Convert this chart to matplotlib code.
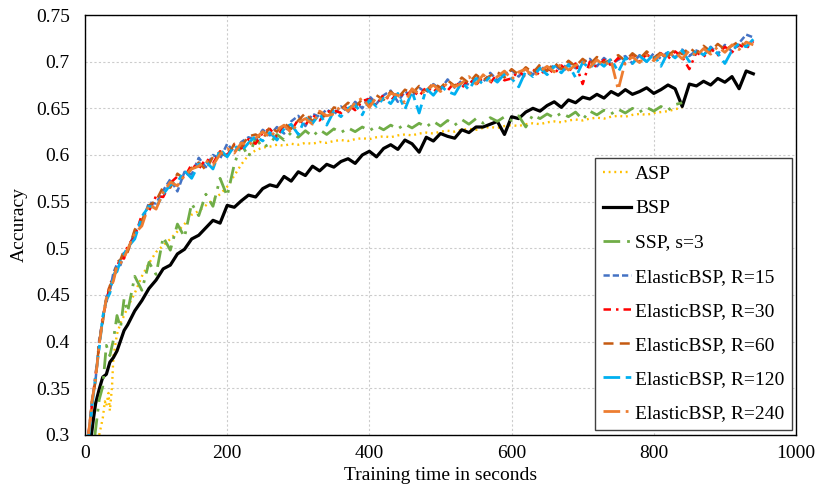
import numpy as np
import matplotlib
matplotlib.use("Agg")
import matplotlib.pyplot as plt

plt.rcParams.update({
    "font.family": ["Liberation Serif", "DejaVu Serif"],
    "font.size": 14,
})

# time axis (seconds)
t_el = np.concatenate([[5, 10, 15, 20, 25, 30, 35, 40, 45, 50, 55, 60], np.arange(70, 950, 10)])
t_bsp = np.concatenate([[9, 12, 15, 20, 25, 30, 35, 40, 45, 50, 55, 60], np.arange(70, 950, 10)])
t_asp = np.concatenate([[20, 25, 28, 30, 33, 35, 38, 40, 45, 50, 55, 60], np.arange(70, 850, 10)])
t_ssp = np.concatenate([[14, 20, 25, 30, 35, 40, 45, 50, 55, 60], np.arange(70, 850, 10)])

# accuracy in thousandths
asp = [300, 318, 336, 331, 345, 326, 352, 384, 408, 420, 428, 437,
       452, 470, 484, 496, 503, 510, 518, 526, 536,
       540, 546, 552, 558, 566, 578, 590, 600, 605, 608,
       609, 611, 610, 612, 611, 613, 612, 614, 613, 615,
       616, 615, 617, 618, 617, 619, 620, 619, 621, 622,
       621, 623, 624, 623, 625, 626, 625, 627, 628, 627,
       629, 630, 629, 631, 632, 631, 633, 634, 633, 635,
       636, 635, 637, 638, 637, 639, 640, 639, 641, 642,
       641, 643, 644, 643, 645, 646, 647, 649, 651]

bsp = [300, 318, 334, 349, 362, 365, 378, 383, 390, 401, 412, 418,
       433, 444, 457, 466, 478, 482, 494, 499, 510,
       514, 522, 530, 527, 546, 544, 551, 557, 555, 564,
       568, 566, 577, 572, 582, 578, 588, 583, 590, 587,
       593, 596, 591, 600, 604, 598, 607, 611, 606, 616,
       612, 603, 619, 615, 623, 620, 618, 627, 624, 630,
       630, 633, 636, 622, 641, 639, 646, 650, 647, 653,
       657, 651, 659, 656, 662, 660, 665, 661, 668, 664,
       670, 665, 668, 672, 666, 670, 675, 671, 652, 676,
       674, 679, 675, 682, 678, 684, 671, 690, 687]

ssp = [300, 338, 352, 396, 385, 402, 428, 415, 446, 432,
       470, 455, 485, 472, 512, 498, 526, 512, 548,
       535, 558, 545, 575, 556, 590, 612, 598, 618, 608,
       612, 622, 616, 624, 619, 626, 620, 627, 622, 628,
       624, 629, 625, 630, 626, 631, 627, 632, 628, 633,
       629, 634, 630, 636, 631, 637, 632, 638, 633, 639,
       634, 640, 636, 641, 637, 642, 630, 643, 639, 644,
       640, 645, 641, 646, 638, 647, 643, 648, 644, 649,
       645, 650, 646, 651, 647, 652, 648, 654, 656]

el_15 = [300, 337, 360, 402, 423, 448, 454, 474, 483, 482, 496, 497,
         518, 527, 549, 548, 562, 574, 561, 582, 579,
         597, 587, 600, 596, 612, 603, 614, 619, 616, 627,
         621, 630, 623, 636, 642, 631, 644, 641, 649, 643,
         652, 646, 657, 650, 663, 655, 664, 669, 657, 668,
         663, 672, 667, 676, 670, 681, 672, 680, 675, 684,
         678, 688, 680, 686, 691, 684, 693, 686, 696, 689,
         697, 690, 700, 693, 699, 703, 695, 704, 697, 702,
         706, 698, 707, 700, 709, 703, 711, 704, 713, 706,
         712, 707, 716, 708, 718, 711, 720, 729, 726]

el_30 = [302, 333, 366, 396, 428, 441, 462, 468, 480, 490, 489, 503,
         512, 536, 540, 556, 555, 570, 577, 576, 590,
         585, 596, 591, 604, 600, 611, 607, 617, 612, 624,
         628, 619, 631, 626, 638, 632, 643, 637, 646, 648,
         645, 654, 648, 658, 660, 653, 665, 658, 667, 662,
         670, 663, 673, 667, 676, 669, 678, 672, 681, 675,
         684, 677, 687, 680, 682, 690, 683, 692, 685, 694,
         687, 696, 689, 698, 676, 700, 694, 702, 696, 704,
         698, 706, 700, 708, 702, 709, 703, 711, 705, 692,
         710, 705, 714, 707, 716, 710, 718, 714, 722]

el_60 = [298, 338, 358, 400, 421, 447, 460, 466, 485, 488, 498, 496,
         520, 530, 546, 551, 566, 565, 580, 574, 586,
         592, 584, 598, 603, 598, 612, 609, 620, 622, 617,
         630, 625, 634, 628, 637, 645, 636, 646, 640, 651,
         649, 656, 651, 660, 654, 664, 659, 668, 661, 670,
         666, 674, 669, 677, 672, 680, 674, 683, 677, 686,
         680, 685, 689, 683, 692, 686, 694, 688, 697, 690,
         699, 692, 701, 695, 703, 697, 705, 699, 702, 707,
         701, 709, 703, 711, 704, 710, 706, 713, 708, 715,
         709, 717, 711, 719, 713, 717, 722, 716, 723]

el_120 = [296, 331, 364, 393, 427, 444, 452, 472, 475, 487, 494, 501,
          510, 534, 545, 544, 558, 568, 571, 583, 575,
          590, 593, 585, 606, 598, 610, 604, 613, 620, 615,
          624, 616, 628, 633, 622, 640, 634, 644, 632, 647,
          641, 650, 654, 643, 659, 652, 661, 655, 666, 649,
          668, 645, 671, 664, 674, 668, 665, 678, 670, 682,
          676, 684, 678, 687, 682, 673, 690, 684, 693, 686,
          695, 688, 697, 683, 699, 693, 701, 695, 703, 689,
          704, 698, 706, 700, 708, 695, 710, 704, 712, 700,
          713, 707, 715, 709, 698, 712, 719, 716, 724]

el_240 = [301, 336, 361, 397, 424, 446, 456, 465, 481, 484, 490, 499,
          516, 524, 547, 542, 560, 571, 567, 578, 585,
          588, 594, 589, 601, 607, 602, 613, 610, 618, 625,
          619, 627, 632, 624, 635, 639, 633, 647, 642, 644,
          653, 647, 656, 661, 651, 662, 658, 666, 664, 656,
          671, 665, 669, 675, 668, 678, 673, 677, 684, 676,
          686, 679, 684, 690, 681, 689, 692, 684, 690, 695,
          689, 698, 691, 696, 700, 694, 702, 696, 701, 670,
          700, 705, 699, 707, 701, 708, 705, 710, 703, 712,
          706, 714, 708, 716, 710, 718, 713, 721, 718]

series = [
    ("ASP", t_asp, asp, "#FFC000", (0, (0.8, 1.6)), 1.7),
    ("BSP", t_bsp, bsp, "#000000", "-", 2.3),
    ("SSP, s=3", t_ssp, ssp, "#70AD47", (0, (6, 2.5, 1, 2.5)), 2.0),
    ("ElasticBSP, R=15", t_el, el_15, "#4472C4", (0, (2.5, 1.2)), 1.8),
    ("ElasticBSP, R=30", t_el, el_30, "#FF0000", (0, (3, 2, 1, 2)), 1.8),
    ("ElasticBSP, R=60", t_el, el_60, "#C55A11", (0, (4, 2.5)), 1.8),
    ("ElasticBSP, R=120", t_el, el_120, "#00B0F0", (0, (6, 2, 2, 2)), 2.0),
    ("ElasticBSP, R=240", t_el, el_240, "#ED7D31", (0, (6, 2, 1, 2)), 2.0),
]

fig, ax = plt.subplots(figsize=(8.3, 4.92), dpi=100)
fig.subplots_adjust(left=0.1024, right=0.959, top=0.9695, bottom=0.1159)

for label, t, acc, color, ls, lw in series:
    ax.plot(t, np.array(acc) / 1000.0, color=color, linestyle=ls, linewidth=lw, label=label)

ax.set_xlim(0, 1000)
ax.set_ylim(0.3, 0.75)
ax.set_xticks([0, 200, 400, 600, 800, 1000])
ax.set_yticks(np.arange(0.3, 0.751, 0.05))
ax.set_yticklabels(["0.3", "0.35", "0.4", "0.45", "0.5", "0.55", "0.6", "0.65", "0.7", "0.75"])
ax.tick_params(axis="x", length=0, pad=7.5)
ax.tick_params(axis="y", length=0, pad=11)
ax.grid(True, color="#cccccc", linestyle=(0, (2, 2)), linewidth=0.8)
ax.set_axisbelow(True)
for sp in ax.spines.values():
    sp.set_color("#000000")
    sp.set_linewidth(1.0)

ax.set_xlabel("Training time in seconds", labelpad=3)
ax.set_ylabel("Accuracy", labelpad=6)

leg = ax.legend(loc="lower right", bbox_to_anchor=(0.995, 0.012), borderaxespad=0,
                fancybox=False, edgecolor="#404040", framealpha=1, handlelength=1.45,
                labelspacing=0.85, handletextpad=0.2, borderpad=0.4)
leg.get_frame().set_linewidth(1.0)

fig.savefig("out.png", dpi=100)
